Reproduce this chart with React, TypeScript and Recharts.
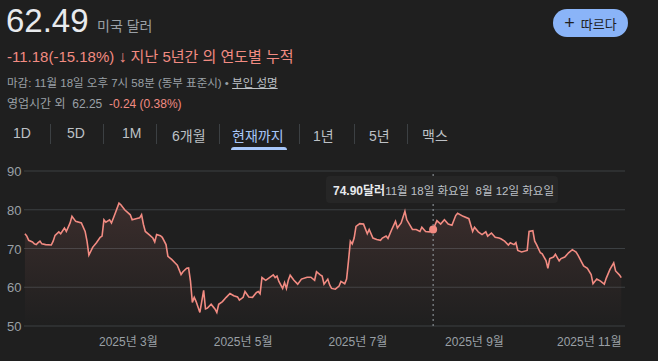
import { AreaChart, Area, XAxis, YAxis, CartesianGrid, ReferenceLine, ReferenceDot } from "recharts";

// day of year (2025) for each close
const days = [
  5, 6, 7, 9, 10, 11, 12, 13, 14, 16, 19, 20, 21, 23, 24, 26, 27, 29, 30, 32,
  35, 37, 38, 39, 41, 43, 45, 46, 47, 48, 50, 51, 53, 55, 56, 58, 61, 62, 64, 66,
  67, 68, 69, 71, 73, 74, 75, 77, 78, 80, 81, 83, 85, 86, 88, 89, 91, 92, 93, 94,
  95, 96, 98, 100, 101, 102, 104, 105, 106, 107, 108, 110, 112, 114, 116, 118, 119, 121, 122, 124,
  126, 128, 129, 130, 131, 133, 135, 137, 138, 139, 140, 142, 143, 144, 145, 146, 148, 150, 152, 155,
  157, 159, 160, 162, 163, 164, 166, 167, 168, 170, 172, 173, 175, 176, 177, 178, 179, 180, 181, 183,
  185, 187, 188, 190, 192, 194, 195, 197, 198, 200, 202, 203, 205, 207, 208, 211, 213, 215, 216, 218,
  220, 222, 224, 226, 228, 230, 232, 234, 235, 238, 241, 243, 244, 246, 248, 250, 251, 253, 255, 257,
  258, 260, 262, 263, 265, 266, 267, 269, 272, 273, 275, 276, 277, 279, 280, 282, 283, 284, 286, 287,
  289, 290, 292, 294, 296, 298, 299, 302, 304, 306, 307, 309, 311, 313, 314, 316, 318, 319, 321, 322,
];

const prices = [
  73.8, 73.2, 72.1, 71.7, 71.2, 71.0, 71.5, 71.9, 71.2, 71.0, 70.9, 71.9, 73.4, 74.3, 73.8, 75.3, 74.4, 76.6, 78.3, 77.0,
  76.6, 74.4, 71.9, 68.3, 70.3, 71.5, 72.9, 73.2, 77.4, 76.8, 77.4, 76.6, 79.1, 81.7, 81.3, 80.0, 78.7, 77.4, 77.7, 77.9,
  78.7, 76.2, 74.4, 73.6, 72.7, 71.7, 73.6, 73.3, 72.9, 71.0, 68.0, 67.2, 66.2, 65.7, 63.3, 64.0, 64.9, 65.0, 61.6, 56.1,
  57.4, 56.3, 53.5, 59.2, 54.4, 54.6, 55.6, 55.0, 54.4, 53.5, 55.6, 56.3, 57.4, 58.4, 57.8, 57.5, 56.7, 57.4, 58.9, 57.5,
  57.4, 58.6, 58.9, 58.3, 62.5, 61.8, 62.5, 63.2, 62.5, 62.9, 61.5, 59.7, 61.2, 59.7, 61.8, 63.1, 61.8, 60.8, 62.1, 62.6,
  62.6, 61.8, 64.0, 63.2, 62.9, 60.8, 62.1, 60.6, 59.7, 59.5, 60.3, 61.5, 60.9, 62.1, 66.8, 71.9, 71.2, 72.7, 75.7, 76.4,
  76.3, 73.8, 74.9, 72.7, 72.3, 72.1, 72.7, 73.2, 72.6, 74.9, 77.0, 75.3, 76.6, 79.6, 77.4, 74.9, 74.9, 74.4, 75.5, 74.4,
  74.3, 74.9, 77.2, 76.3, 77.4, 76.3, 76.0, 78.5, 79.1, 78.3, 77.7, 74.4, 75.5, 74.3, 73.6, 74.3, 73.2, 74.0, 72.9, 72.7,
  72.5, 71.9, 70.9, 71.5, 71.0, 71.5, 69.5, 69.1, 69.5, 74.4, 74.6, 71.9, 71.0, 68.9, 68.6, 66.9, 64.9, 67.4, 67.8, 68.5,
  66.8, 67.4, 67.8, 68.9, 69.7, 69.1, 68.3, 65.5, 64.9, 63.3, 60.9, 62.1, 61.6, 60.8, 62.3, 64.6, 66.3, 64.2, 63.2, 62.49,
];

const monthTicks = [60, 121, 182, 244, 305];
const monthLabels = ["2025년 3월", "2025년 5월", "2025년 7월", "2025년 9월", "2025년 11월"];
const priceTicks = [50, 60, 70, 80, 90];
const ranges = ["1D", "5D", "1M", "6개월", "현재까지", "1년", "5년", "맥스"];
const rangeX = [13, 67, 122, 172, 232, 313, 369, 422];
const sepX = [50, 103, 156, 219, 299, 354, 407];

const hoverDay = 222;
const hoverPrice = 74.9;

const data = days.map((d, i) => ({ day: d, price: prices[i] }));

const FONT = "'Liberation Sans', Arial, 'Noto Sans CJK KR', sans-serif";
const RED = "#f28b82";
const GRAY = "#9aa0a6";

export default function App() {
  return (
    <div
      style={{
        position: "absolute",
        left: 0,
        top: 0,
        width: 658,
        height: 361,
        background: "#1f1f1f",
        fontFamily: FONT,
        overflow: "hidden",
      }}
    >
      <div style={{ position: "absolute", left: 6, top: 2, fontSize: 33, color: "#e8eaed" }}>62.49</div>
      <div style={{ position: "absolute", left: 97, top: 15, fontSize: 14, color: GRAY }}>미국 달러</div>
      <div style={{ position: "absolute", left: 7, top: 45, fontSize: 15, color: RED }}>
        -11.18(-15.18%) <b style={{ fontSize: 16 }}>↓</b> 지난 5년간 의 연도별 누적
      </div>
      <div style={{ position: "absolute", left: 7, top: 74, fontSize: 11.5, color: GRAY }}>
        마감: 11월 18일 오후 7시 58분 (동부 표준시) •{" "}
        <span style={{ textDecoration: "underline", color: "#bdc1c6" }}>부인 성명</span>
      </div>
      <div style={{ position: "absolute", left: 7, top: 94, fontSize: 12, color: GRAY }}>
        영업시간 외&nbsp;&nbsp;62.25&nbsp;&nbsp;<span style={{ color: RED }}>-0.24 (0.38%)</span>
      </div>

      <div
        style={{
          position: "absolute",
          left: 553,
          top: 9,
          width: 75,
          height: 28,
          borderRadius: 14,
          background: "#8ab4f8",
          color: "#1f1f1f",
          fontSize: 13,
          display: "flex",
          alignItems: "center",
          justifyContent: "center",
          gap: 6,
        }}
      >
        <span style={{ fontSize: 18, lineHeight: "18px" }}>+</span>
        <span>따르다</span>
      </div>

      {ranges.map((r, i) => (
        <div
          key={r}
          style={{
            position: "absolute",
            left: rangeX[i],
            top: 125,
            fontSize: 14,
            color: r === "현재까지" ? "#a8c7fa" : "#bdc1c6",
          }}
        >
          {r}
        </div>
      ))}
      {sepX.map((x) => (
        <div key={x} style={{ position: "absolute", left: x, top: 124, width: 1, height: 20, background: "#3c4043" }} />
      ))}
      <div
        style={{
          position: "absolute",
          left: 231,
          top: 147,
          width: 56,
          height: 3,
          borderRadius: "3px 3px 0 0",
          background: "#a8c7fa",
        }}
      />

      <div style={{ position: "absolute", left: 0, top: 160 }}>
        <AreaChart width={658} height={201} data={data} margin={{ top: 11, right: 33, bottom: 0, left: 0 }}>
          <defs>
            <linearGradient id="fillRed" x1="0" y1="0" x2="0" y2="1">
              <stop offset="0%" stopColor={RED} stopOpacity={0.22} />
              <stop offset="100%" stopColor={RED} stopOpacity={0} />
            </linearGradient>
          </defs>
          <CartesianGrid vertical={false} stroke="#3c4043" strokeWidth={1} />
          <XAxis
            type="number"
            dataKey="day"
            domain={[4.5, 324]}
            ticks={monthTicks}
            axisLine={false}
            tickLine={false}
            height={35}
            tick={(p: any) => (
              <text x={p.x} y={p.y + 12} textAnchor="middle" fontSize={12} fill={GRAY} fontFamily={FONT}>
                {monthLabels[monthTicks.indexOf(p.payload.value)]}
              </text>
            )}
          />
          <YAxis
            domain={[50, 90]}
            ticks={priceTicks}
            width={24}
            axisLine={false}
            tickLine={false}
            tick={(p: any) => (
              <text x={7} y={p.y + 5} textAnchor="start" fontSize={13} fill={GRAY} fontFamily={FONT}>
                {p.payload.value}
              </text>
            )}
          />
          <ReferenceLine x={hoverDay} stroke="#9aa0a6" strokeDasharray="2 3" />
          <Area
            type="linear"
            dataKey="price"
            stroke={RED}
            strokeWidth={1.6}
            fill="url(#fillRed)"
            baseValue={50}
            isAnimationActive={false}
            dot={false}
          />
          <ReferenceDot x={hoverDay} y={hoverPrice} r={4} fill={RED} stroke="none" />
        </AreaChart>
      </div>

      <div
        style={{
          position: "absolute",
          left: 326,
          top: 176,
          width: 232,
          height: 27,
          background: "#262626",
          borderRadius: 4,
          display: "flex",
          alignItems: "center",
          paddingLeft: 7,
          boxSizing: "border-box",
          whiteSpace: "nowrap",
        }}
      >
        <span style={{ fontSize: 12, fontWeight: "bold", color: "#e8eaed" }}>74.90달러</span>
        <span style={{ fontSize: 11.5, color: "#bdc1c6" }}>11월 18일 화요일&nbsp;&nbsp;8월 12일 화요일</span>
      </div>
    </div>
  );
}
